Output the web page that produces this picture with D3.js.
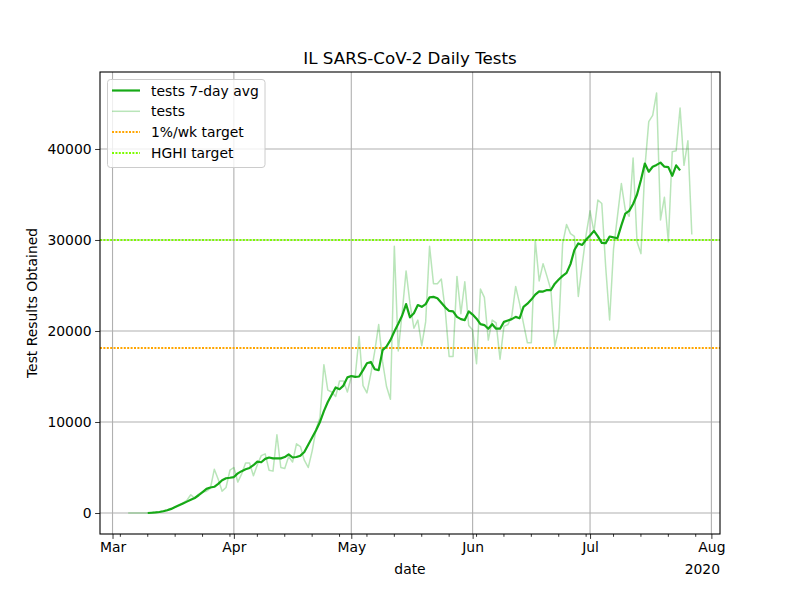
<!DOCTYPE html>
<html>
<head>
<meta charset="utf-8">
<script src="https://cdn.jsdelivr.net/npm/d3@7"></script>
<style>
  body { margin: 0; background: #fff; }
  svg { font-family: "DejaVu Sans", sans-serif; }
</style>
</head>
<body>
<svg id="chart" width="800" height="600"></svg>
<script>
// ---------------- data ----------------
const title = "IL SARS-CoV-2 Daily Tests";
const yLabel = "Test Results Obtained";
const xLabel = "date";
const yearLabel = "2020";

const testsStart = "2020-03-05";
const tests = [
  0, 0, 0, 0, 0, 10, 30, 80, 150, 250, 350, 500, 650, 900, 1100, 1400, 2000, 1600, 2100, 2300,
  2400, 2700, 4800, 3700, 2400, 2800, 4700,
  5000, 3400, 4300, 5500, 5500, 4100, 5300, 6300, 6500, 4700, 4600, 8600, 5000, 4900, 6200,
  5600, 7600, 7300, 5800, 5000, 6800, 9200, 10500, 16300, 13500, 13300, 12800, 14500, 14500, 13300,
  15000, 15000, 19400, 14000, 13200, 15300, 17800, 20700, 16600, 13900, 12500, 29300, 17800, 22000,
  26600, 23000, 20300, 21200, 18400, 21000, 29300, 25200, 25200, 25700, 22300, 17200, 17200, 26000,
  21900, 25400, 20600,
  20100, 16400, 24600, 23700, 19000, 21200, 20900, 16900, 20500, 20700, 21600, 24900, 23000, 20800,
  18700, 18700, 30000, 25500, 27400, 26000, 24500, 18300, 20300, 29600, 31700, 30700, 30400, 23800,
  27300, 30600,
  33200, 30900, 34400, 34000, 27000, 21200, 29000, 32600, 36200, 33300, 32600, 39000, 29800, 28500,
  37900, 43000, 43700, 46150, 32200, 34700, 29800, 39700, 39800, 44500, 38200, 40900, 30600
];

const avgStart = "2020-03-10";
const avg7 = [
  0, 30, 60, 110, 190, 300, 450, 650, 850, 1050, 1250, 1450, 1650, 1950, 2300, 2650, 2800, 2880,
  3200, 3600, 3820, 3870,
  3950, 4350, 4600, 4800, 4950, 5250, 5650, 5580, 5950, 6100, 6010, 6000, 6000, 6150, 6450, 6100,
  6150, 6300, 6700, 7500, 8300, 9100, 10000, 11200, 12200, 13000, 13800, 13600, 14000, 14900,
  15050, 14950, 15000, 15700, 16450, 16600, 15800, 15700, 17900, 18300, 19000, 19950, 20800, 21700,
  22950, 21500, 21950, 22850, 22650, 22950, 23700, 23750, 23600, 23100, 22600, 22200, 22150, 21550,
  21300, 21200, 22150,
  21800, 21350, 20750, 20650, 20250, 20750, 20250, 20250, 21000, 21150, 21300, 21550, 21400, 22650,
  23000, 23450, 24000, 24350, 24330, 24500, 24500, 25200, 25650, 26050, 26380, 27350, 28900, 29620,
  29450, 30050,
  30500, 31000, 30400, 29680, 29650, 30380, 30280, 30190, 31600, 32900, 33200, 33950, 35000, 36600,
  38400, 37500, 38050, 38250, 38500, 38050, 38000, 37050, 38200, 37650
];

const targetPctWk = 18130;   // 1%/wk target
const targetHGHI = 30000;    // HGHI target

const yTicks = [0, 10000, 20000, 30000, 40000];
const monthTicks = ["2020-03-01", "2020-04-01", "2020-05-01", "2020-06-01", "2020-07-01", "2020-08-01"];
const monthLabels = ["Mar", "Apr", "May", "Jun", "Jul", "Aug"];
const minorTickStart = "2020-03-03"; // weekly minor ticks

const legendLabels = ["tests 7-day avg", "tests", "1%/wk target", "HGHI target"];

// ---------------- styles ----------------
const cAvg = "#16a916";
const cTarget1 = "#ffa500";
const cTarget2 = "#7cfc00";
const gridColor = "#b0b0b0";
const dotted = "2,1.4";

// ---------------- layout ----------------
const L = 100, R = 720, T = 72, B = 534;
const svg = d3.select("#chart");
const parse = d3.utcParse("%Y-%m-%d");

function seriesDates(start, n) {
  const s = parse(start);
  return d3.range(n).map(i => d3.utcDay.offset(s, i));
}
const testsData = seriesDates(testsStart, tests.length).map((d, i) => ({ d, v: tests[i] }));
const avgData = seriesDates(avgStart, avg7.length).map((d, i) => ({ d, v: avg7[i] }));

const xMin = testsData[0].d, xMax = testsData[testsData.length - 1].d;
const span = xMax - xMin;
const x = d3.scaleUtc()
  .domain([new Date(+xMin - 0.05 * span), new Date(+xMax + 0.05 * span)])
  .range([L, R]);
const yMax = d3.max(tests), yMin = 0;
const yspan = yMax - yMin;
const y = d3.scaleLinear()
  .domain([yMin - 0.05 * yspan, yMax + 0.05 * yspan])
  .range([B, T]);

// clip
svg.append("defs").append("clipPath").attr("id", "clip")
  .append("rect").attr("x", L).attr("y", T).attr("width", R - L).attr("height", B - T);

// grid
const majorDates = monthTicks.map(parse);
const gridG = svg.append("g");
gridG.selectAll("line.vx").data(majorDates).join("line")
  .attr("x1", d => x(d)).attr("x2", d => x(d)).attr("y1", T).attr("y2", B)
  .attr("stroke", gridColor).attr("stroke-width", 1.1);
gridG.selectAll("line.hy").data(yTicks).join("line")
  .attr("x1", L).attr("x2", R).attr("y1", d => y(d)).attr("y2", d => y(d))
  .attr("stroke", gridColor).attr("stroke-width", 1.1);

// plot content
const plot = svg.append("g").attr("clip-path", "url(#clip)");

plot.append("line")
  .attr("x1", L).attr("x2", R).attr("y1", y(targetPctWk)).attr("y2", y(targetPctWk))
  .attr("stroke", cTarget1).attr("stroke-width", 2).attr("stroke-dasharray", dotted);
plot.append("line")
  .attr("x1", L).attr("x2", R).attr("y1", y(targetHGHI)).attr("y2", y(targetHGHI))
  .attr("stroke", cTarget2).attr("stroke-width", 2).attr("stroke-dasharray", dotted);

const line = d3.line().x(p => x(p.d)).y(p => y(p.v));
plot.append("path").datum(testsData).attr("d", line)
  .attr("fill", "none").attr("stroke", cAvg).attr("stroke-opacity", 0.3)
  .attr("stroke-width", 1.5).attr("stroke-linejoin", "round");
plot.append("path").datum(avgData).attr("d", line)
  .attr("fill", "none").attr("stroke", cAvg)
  .attr("stroke-width", 2.2).attr("stroke-linejoin", "round");

// axes
const xAxis = d3.axisBottom(x).tickValues(majorDates)
  .tickFormat((d, i) => monthLabels[i]).tickSize(4.9).tickPadding(3.5);
const gx = svg.append("g").attr("transform", `translate(0,${B})`).call(xAxis);
const minorList = [];
for (let d = parse(minorTickStart); d <= x.domain()[1]; d = d3.utcDay.offset(d, 7)) minorList.push(d);
svg.append("g").selectAll("line").data(minorList).join("line")
  .attr("x1", d => x(d)).attr("x2", d => x(d)).attr("y1", B).attr("y2", B + 2.8)
  .attr("stroke", "#000").attr("stroke-width", 0.8);

const yAxis = d3.axisLeft(y).tickValues(yTicks).tickFormat(d3.format("d"))
  .tickSize(4.9).tickPadding(3.5);
const gy = svg.append("g").attr("transform", `translate(${L},0)`).call(yAxis);

[gx, gy].forEach(g => {
  g.select(".domain").remove();
  g.selectAll(".tick line").attr("stroke", "#000").attr("stroke-width", 0.8);
  g.selectAll(".tick text").attr("font-size", "13.9px").attr("fill", "#000")
    .attr("font-family", "DejaVu Sans, sans-serif");
});

// frame
svg.append("rect").attr("x", L).attr("y", T).attr("width", R - L).attr("height", B - T)
  .attr("fill", "none").attr("stroke", "#000").attr("stroke-width", 1.1);

// labels
svg.append("text").attr("x", (L + R) / 2).attr("y", 64).attr("text-anchor", "middle")
  .attr("font-size", "16.7px").text(title);
svg.append("text").attr("x", (L + R) / 2).attr("y", 574).attr("text-anchor", "middle")
  .attr("font-size", "13.9px").text(xLabel);
svg.append("text").attr("x", R).attr("y", 574).attr("text-anchor", "end")
  .attr("font-size", "13.9px").text(yearLabel);
svg.append("text").attr("transform", `translate(37,${(T + B) / 2}) rotate(-90)`)
  .attr("text-anchor", "middle").attr("font-size", "13.9px").text(yLabel);

// legend
const lg = svg.append("g");
lg.append("rect").attr("x", 107.5).attr("y", 79.5).attr("width", 157.5).attr("height", 88)
  .attr("rx", 3).attr("fill", "#fff").attr("fill-opacity", 0.8)
  .attr("stroke", "#cccccc").attr("stroke-width", 1);
const legendStyles = [
  { c: cAvg, o: 1, w: 2.2, dash: null },
  { c: cAvg, o: 0.3, w: 1.5, dash: null },
  { c: cTarget1, o: 1, w: 2, dash: dotted },
  { c: cTarget2, o: 1, w: 2, dash: dotted }
];
legendLabels.forEach((lab, i) => {
  const yy = 90.5 + i * 20.8;
  const s = legendStyles[i];
  const ln = lg.append("line").attr("x1", 112).attr("x2", 140).attr("y1", yy).attr("y2", yy)
    .attr("stroke", s.c).attr("stroke-opacity", s.o).attr("stroke-width", s.w);
  if (s.dash) ln.attr("stroke-dasharray", s.dash);
  lg.append("text").attr("x", 151).attr("y", yy + 5).attr("font-size", "13.9px").text(lab);
});
</script>
</body>
</html>
